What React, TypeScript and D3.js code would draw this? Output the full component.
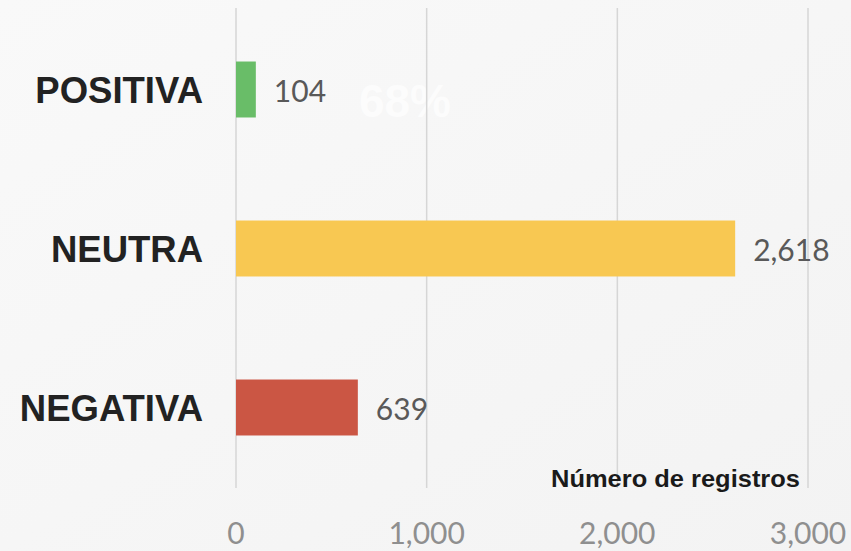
import React from "react";
import * as d3 from "d3";

const categories = ["POSITIVA", "NEUTRA", "NEGATIVA"];
const values = [104, 2618, 639];
const barColors = ["#69bd68", "#f8c852", "#cb5644"];
const tickValues = [0, 1000, 2000, 3000];
const axisTitle = "Número de registros";
const bgPercents = [{ text: "68%", x: 405, y: 117 }];

const W = 851;
const H = 551;

export default function App() {
  const x = d3.scaleLinear().domain([0, 3000]).range([236, 808]);
  const y = d3
    .scaleBand<string>()
    .domain(categories)
    .range([10, 487])
    .paddingInner(0.648)
    .paddingOuter(0.324);
  const fmt = d3.format(",");
  const gridTop = 8;
  const gridBottom = 488;

  return (
    <svg
      width={W}
      height={H}
      style={{ position: "absolute", left: 0, top: 0, display: "block" }}
    >
      <defs>
        <linearGradient id="bg" x1="0" y1="0" x2="1" y2="1">
          <stop offset="0" stopColor="#f9f9f9" />
          <stop offset="0.5" stopColor="#f6f6f6" />
          <stop offset="1" stopColor="#f3f3f3" />
        </linearGradient>
      </defs>
      <rect x={0} y={0} width={W} height={H} fill="url(#bg)" />
      {bgPercents.map((p, i) => (
        <text
          key={i}
          x={p.x}
          y={p.y}
          textAnchor="middle"
          fontFamily="Liberation Sans, Arial, sans-serif"
          fontWeight="bold"
          fontSize={46}
          fill="#ffffff"
          opacity={0.7}
        >
          {p.text}
        </text>
      ))}
      {tickValues.map((t) => (
        <line
          key={t}
          x1={x(t)}
          x2={x(t)}
          y1={gridTop}
          y2={gridBottom}
          stroke="#d6d6d6"
          strokeWidth={1.5}
        />
      ))}
      {categories.map((c, i) => {
        const y0 = y(c) as number;
        const bh = y.bandwidth();
        const cy = y0 + bh / 2;
        return (
          <g key={c}>
            <rect
              x={x(0)}
              y={y0}
              width={x(values[i]) - x(0)}
              height={bh}
              fill={barColors[i]}
            />
            <text
              x={203}
              y={cy + 13}
              textAnchor="end"
              fontFamily="Liberation Sans, Arial, sans-serif"
              fontWeight="bold"
              fontSize={36.5}
              fill="#222222"
            >
              {c}
            </text>
            <text
              x={x(values[i]) + 18}
              y={cy + 12}
              fontFamily="Lato, sans-serif"
              fontSize={30}
              fill="#595959"
            >
              {fmt(values[i])}
            </text>
          </g>
        );
      })}
      <text
        x={800}
        y={487}
        textAnchor="end"
        fontFamily="Liberation Sans, Arial, sans-serif"
        fontWeight="bold"
        fontSize={24}
        fill="#1a1a1a"
        textLength={249}
        lengthAdjust="spacingAndGlyphs"
      >
        {axisTitle}
      </text>
      {tickValues.map((t) => (
        <text
          key={"l" + t}
          x={x(t)}
          y={544}
          textAnchor="middle"
          fontFamily="Lato, sans-serif"
          fontSize={30}
          fill="#8f8f8f"
        >
          {fmt(t)}
        </text>
      ))}
    </svg>
  );
}
